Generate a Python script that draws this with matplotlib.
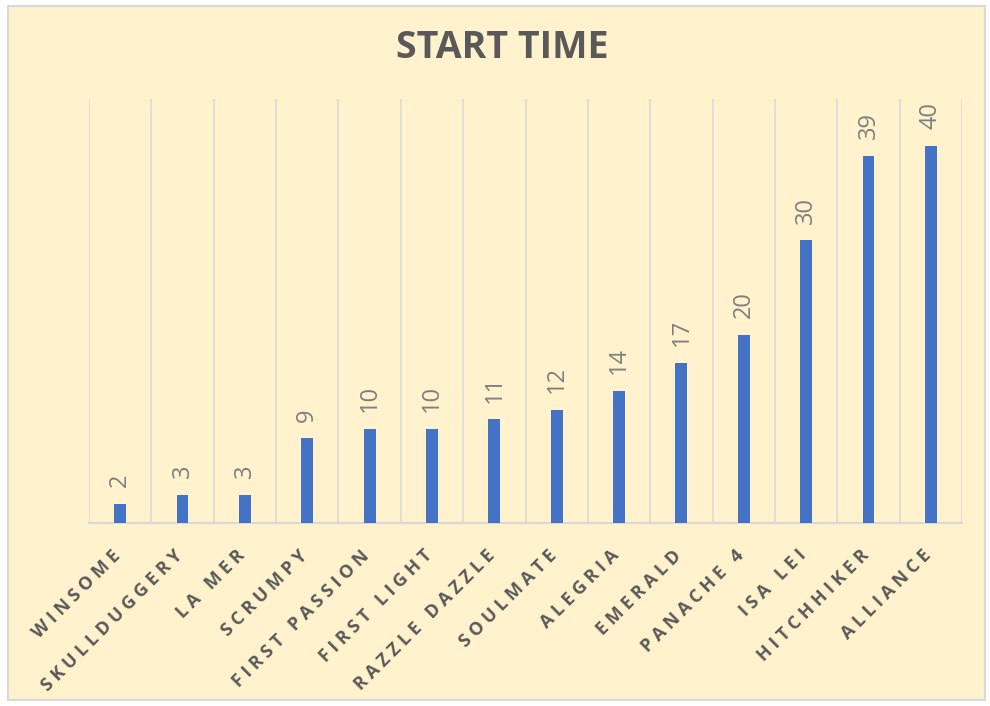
import numpy as np
import matplotlib.pyplot as plt
import matplotlib.transforms as mtransforms
from matplotlib.patches import Rectangle

boats = ["WINSOME", "SKULLDUGGERY", "LA MER", "SCRUMPY", "FIRST PASSION",
         "FIRST LIGHT", "RAZZLE DAZZLE", "SOULMATE", "ALEGRIA", "EMERALD",
         "PANACHE 4", "ISA LEI", "HITCHHIKER", "ALLIANCE"]
start_time = [2, 3, 3, 9, 10, 10, 11, 12, 14, 17, 20, 30, 39, 40]

BG = "#FFF2CC"
BAR = "#4472C4"
GRID = "#D9D9D9"
TEXT = "#595959"

plt.rcParams['font.family'] = ['Open Sans', 'DejaVu Sans']


def spaced(s, gap="\u2005"):
    # expanded character spacing like the original Excel styling
    return gap.join(s)


fig = plt.figure(figsize=(9.9, 7.06), dpi=100)
fig.patch.set_facecolor("white")
frame = Rectangle((8 / 990, 6 / 706), 977 / 990, 694 / 706,
                  transform=fig.transFigure, facecolor=BG,
                  edgecolor=GRID, linewidth=1.5, zorder=-5)
fig.add_artist(frame)

ax = fig.add_axes([89 / 990, 1 - 523 / 706, 873 / 990, 424 / 706])
ax.patch.set_alpha(0)

x = np.arange(len(boats))
ax.bar(x, start_time, width=0.19, color=BAR, zorder=3)

for xi, v in zip(x, start_time):
    ax.annotate(str(v), (xi, v), xytext=(0, 12), textcoords="offset points",
                rotation=90, ha="center", va="bottom", fontsize=17,
                color="#7F7F7F")

ax.set_xlim(-0.5, len(boats) - 0.5)
ax.set_ylim(0, 45)
for b in np.arange(-0.5, len(boats), 1.0):
    ax.axvline(b, color=GRID, linewidth=1.2, zorder=1)

for s in ["top", "right", "left"]:
    ax.spines[s].set_visible(False)
ax.spines["bottom"].set_color(GRID)
ax.spines["bottom"].set_linewidth(1.5)

ax.set_yticks([])
ax.set_xticks(x)
ax.set_xticklabels([spaced(b) for b in boats], rotation=45, ha="right",
                   va="top", rotation_mode="anchor", fontsize=13,
                   fontweight="bold", color=TEXT)
ax.tick_params(axis="x", length=0, pad=17)
shift = mtransforms.ScaledTranslation(-9 / 100, 0, fig.dpi_scale_trans)
for lab in ax.get_xticklabels():
    lab.set_transform(lab.get_transform() + shift)

fig.text(0.507, 1 - 48 / 706, "START TIME", ha="center", va="center",
         fontsize=27, fontweight="bold", color=TEXT)

fig.savefig("out.png", dpi=100, facecolor=fig.get_facecolor())
